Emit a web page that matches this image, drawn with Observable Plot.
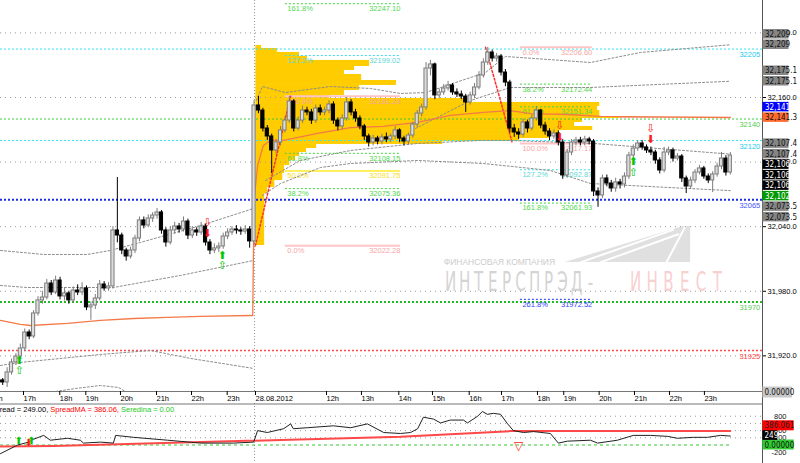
<!DOCTYPE html>
<html>
<head>
<meta charset="utf-8">
<script src="https://cdn.jsdelivr.net/npm/d3@7"></script>
<script src="https://cdn.jsdelivr.net/npm/@observablehq/plot@0.6"></script>
<style>
  html, body { margin: 0; padding: 0; background: #fff; }
  #chart { position: relative; width: 800px; height: 463px; overflow: hidden; background: #fff; }
  #chart svg { position: absolute; left: 0; }
</style>
</head>
<body>
<div id="chart"></div>
<script>
// ================= DATA =================
// candles (bar index = slot); open of each bar = previous close
const firstOpen = 31897.2;
const closes = [
31895.3,31904.6,31913.9,31919.4,31926.9,31941.7,31938.0,31959.4,31971.5,31974.2,
31987.2,31978.9,31990.0,31975.2,31978.0,31971.5,31980.7,31978.9,31982.6,31965.0,
31966.8,31973.3,31986.3,31982.6,31984.5,32036.5,32031.8,32017.9,32012.3,32017.9,
32029.0,32045.8,32041.1,32047.6,32050.4,32053.2,32036.5,32025.3,32036.5,32040.2,
32037.4,32044.8,32031.8,32036.5,32034.6,32040.2,32025.3,32017.9,32019.8,32021.6,
32030.9,32034.6,32037.4,32036.5,32035.5,32037.4,32026.3,
32152.6,
32147.9,32131.2,32123.8,32110.8,32118.2,32129.4,32138.6,32156.3,32131.2,32138.6,
32147.9,32146.1,32138.6,32149.8,32146.1,32147.9,32153.5,32138.6,32133.1,32140.5,
32155.4,32146.1,32140.5,32133.1,32123.8,32118.2,32121.9,32119.1,32122.9,32121.0,
32123.8,32129.4,32121.9,32119.1,32124.7,32134.9,32145.1,32150.7,32186.9,32190.7,
32161.9,32164.7,32168.4,32171.2,32164.7,32162.8,32160.9,32155.4,32161.9,32169.3,
32180.4,32192.5,32201.8,32196.2,32198.1,32183.2,32173.9,32131.2,32127.5,32125.6,
32136.8,32131.2,32140.5,32147.9,32134.0,32128.4,32123.8,32126.6,32118.2,32087.6,
32108.9,32118.2,32120.1,32118.2,32121.0,32119.1,32072.7,32069.0,32084.8,32080.1,
32075.5,32081.1,32079.2,32086.6,32106.1,32112.6,32117.3,32113.6,32110.8,32108.9,
32101.5,32092.2,32108.9,32110.8,32103.3,32105.2,32084.8,32077.3,32082.9,32090.3,
32094.1,32086.6,32082.9,32088.5,32095.9,32103.3,32090.3,32106.1];
const highs = [
31899,31909,31917,31922,31931,31945,31944,31962,31975,31980,
31991,31990,31994,31993,31983,31980,31984,31986,31988,31985,
31970,31977,31990,31989,31988,32040,32085.7,32034,32020,32021,
32032,32049,32049,32051,32053,32056.9,32055,32039,32040,32044,
32043,32049,32047,32040,32039,32044,32042,32028,32024,32025,
32034,32038,32040,32041,32039,32041,32040,
32157.2,
32160.9,32150,32134,32126,32121,32133,32142,32160.9,32158,32142,
32152,32151,32149,32153,32153,32151,32157,32156,32141,32144,
32160,32158,32149,32143,32135,32126,32125,32124,32126,32127,
32126,32133,32131,32124,32127,32137,32148,32154,32192.5,32194.4,
32192,32168,32172,32175,32173,32168,32166,32163,32165,32173,
32184,32196,32206.5,32204,32201,32200,32186,32176,32135,32131,
32140,32139,32144,32151.6,32149,32137,32131,32130,32129,32121,
32112,32121,32123,32123,32124,32123,32121,32076,32088,32088,
32083,32085,32084,32090,32109,32116,32120,32120,32116,32114,
32111,32104,32113.7,32114,32113,32108,32107,32087,32086,32093,
32097,32096,32089,32091,32099,32109,32106,32109];
const lows = [
31892.5,31890.6,31902,31911,31917,31924,31935,31936,31957,31968,
31972,31976,31977,31972,31971,31968,31969,31976,31976,31962,
31953,31963,31971,31980,31980,31982,32025,32014,32008,32010,
32015,32026,32038,32039,32044,32047,32033,32021,32023,32033,
32034,32035,32028,32029,32031,32032,32022,32014,32015,32016,
32019,32028,32032,32033,32032,32033,32020,
32022.5,
32145,32128,32120,32089.4,32107,32115,32127,32136,32128,32129,
32136,32143,32135,32136,32143,32143,32145,32135,32129,32130,
32138,32143,32137,32130,32120,32114,32115,32116,32116,32118,
32118,32121,32118,32115,32116,32122,32132,32142,32148,32180,
32158,32159,32162,32166,32162,32160,32158,32146.1,32153,32159,
32167,32178,32190,32193,32193,32180,32170,32127,32123,32121,
32123,32127,32129,32138,32131,32125,32120,32121,32115,32084,
32085,32106,32115,32115,32115,32116,32068,32058,32066,32077,
32072,32072,32075,32076,32084,32103,32110,32111,32108,32106,
32098,32089,32090,32106,32100,32101,32081,32070.8,32075,32080,
32088,32084,32080,32071.7,32086,32093,32087,32088];

// time axis (bar-slot positions of hour marks)
const tickSlots  = [-3.1,4.49,12.72,18.62,26.48,34.65,42.59,50.68,57.1,73.2,81.13,89.6,97.23,105.56,112.88,121.04,127.0,135.03,143.04,150.98,158.9];
const tickLabels = ["16h","17h","18h","19h","20h","21h","22h","23h","28.08.2012","12h","13h","14h","15h","16h","17h","18h","19h","20h","21h","22h","23h"];
const daySeparator = 57.1;

const priceGrid   = [32220, 32160, 32100, 32040, 31980, 31920];
const levelValues = [32205, 32140, 32120, 32065, 31970, 31925];

// volume profile of 28.08 session
const sessionStart = 57.4;
const profileTop = [32208.3,32205.5,32201.8,32198.1,32194.4,32188.8,32185.1,32181.4,32175.8,32171.2,32166.5,32161.9,32159.1,32155.4,32151.6,32147.9,32144.2,32142.3,32140.5,32136.8,32133.1,32129.4,32125.6,32121.9,32119.1,32116.4,32112.6,32108.9,32105.2,32101.5,32096.8,32089.4,32082.9,32076.4,32070.8];
const profileVol = [1.3,4.9,9.9,11.7,25.8,22.4,20.1,24.0,31.9,23.5,20.1,16.7,48.0,78.0,77.5,78.0,78.0,86.3,74.1,72.3,76.4,68.9,66.6,59.8,42.4,13.8,11.5,9.9,9.0,7.7,6.5,6.1,4.3,2.7,2.0];
const profileBottom = 32022.5;

// Fibonacci sets
const fib1Pct = [161.8, 127.2, 100, 61.8, 50, 38.2, 0];
const fib1Val = [32247.10, 32199.02, 32161.23, 32108.15, 32091.75, 32075.36, 32022.28];
const fib1Span = [64.1, 90.2];
const fib1Swing = [[57.3, 32022.28], [65.3, 32161.23]];
const fib2Pct = [0, 38.2, 61.8, 100, 127.2, 161.8, 261.8];
const fib2Val = [32206.60, 32172.44, 32151.34, 32117.17, 32092.87, 32061.93, 31972.52];
const fib2Span = [117.4, 133.7];
const fib2Swing = [[109.5, 32206.6], [115.6, 32117.17]];

// envelope / band lines
const bandD1a = [[-0.5,32017.9],[9.25,32014.2],[19.2,32014.2],[24.4,32017.9],[31.2,32025.3],[44.9,32041.1],[56.9,32056.9]];
const bandD1b = [[-0.5,31985.4],[5.6,31983.5],[19.2,31983.5],[25.1,31983.5],[40.3,31994.7],[56.9,32008.6]];
const bandD1c = [[-0.5,31911.1],[4.0,31913.9],[22.2,31921.3],[33.5,31925.0],[42.6,31917.6],[56.9,31908.3]];
const bandD1d = [[12.0,31886.9],[16.5,31889.7],[22.2,31892.5],[26.3,31890.6],[27.8,31886.9]];
const bandU1 = [[57.5,32157.2],[58.9,32170.2],[64.1,32164.6],[74.3,32170.2],[83.4,32168.4],[90.2,32163.7],[95.9,32164.6],[102.7,32173.9],[109.5,32183.2],[114.0,32198.1],[133.3,32192.5],[144.6,32201.8],[165.0,32209.0]];
const bandU2 = [[93.6,32131.2],[106.1,32157.2],[115.1,32169.3],[133.3,32169.3],[165.0,32175.1]];
const bandL1 = [[59.6,32082.9],[67.5,32101.5],[78.9,32110.8],[94.1,32117.3],[108.3,32120.1],[115.1,32120.1],[134.0,32117.3],[165.0,32107.4]];
const bandL2 = [[58.9,32069.0],[63.0,32080.1],[72.1,32095.0],[78.9,32098.7],[94.1,32101.5],[109.0,32098.7],[124.2,32092.2],[133.3,32080.1],[165.0,32073.5]];

// VWAP-like orange line
const vwapSlot = [-0.5,4.0,6.3,14.7,22.2,29.7,37.4,44.9,56.2,56.7,57.0,57.8,59.1,60.7,63.7,71.4,78.9,86.3,94.1,101.5,109.0,115.1,119.7,128.1,135.6,165.0];
const vwapVal  = [31952.9,31949.2,31948.2,31950.1,31952.9,31954.7,31955.7,31956.6,31957.5,31957.5,32064.3,32096.8,32115.4,32120.1,32120.1,32126.6,32132.1,32133.1,32136.8,32143.3,32146.1,32147.9,32145.1,32144.2,32142.4,32141.3];
const pinkSpan = [140.0, 165.3];
const pinkVal = 32141.6;

// signal arrows
const arrowSlot  = [3.8,3.8,46.4,46.4,49.8,49.8,126.3,126.3,146.9,146.9,143.0,143.0];
const arrowPrice = [31915.7,31906.4,32043.9,32033.7,32013.3,32004.0,32134.0,32122.9,32131.2,32121.0,32100.6,32090.3];
const arrowKind  = ["buy","buyH","sellH","sell","buy","buyH","sellH","sell","sellH","sell","buy","buyH"];

// right-hand price boxes
const boxValues = [32209,32209,32175.1,32175.1,32141.3,32141.3,32107.4,32107.4,32106,32106,32106,32102.3,32073.5,32073.5];
const boxKinds  = ["band","band","band","band","blue","vwap","band","band","price","price","price","green","band","band"];

// watermark
const wmSmallText = "ФИНАНСОВАЯ КОМПАНИЯ";
const wmSmallAt = [100.0, 32006.8];
const wmWords = ["ИНТЕРСПРЭД-", "ИНВЕСТ"];
const wmWordSpan = [[100.0, 134.9], [141.7, 163.9]];
const wmWordPrice = 31988.5;
const logoSlot = [127.6, 154.4, 156.0];
const logoTop = [32006.8, 32040.2, 32040.2];
const logoBase = 32006.8;
const logoStripes = [
  [[131.0, 32006.8], [152.0, 32037.0]],
  [[135.5, 32006.8], [153.2, 32033.0]],
  [[150.5, 32006.8], [154.8, 32040.2]]
];

// indicator panel
const spreadSlot = [-0.5,3.4,5.9,7.0,9.3,10.8,14.7,17.6,18.3,22.2,25.1,25.6,29.7,37.4,44.9,52.3,56.9,57.8,60.0,63.7,65.3,65.9,69.1,75.0,78.9,82.7,86.4,90.2,92.5,94.1,95.4,97.7,99.3,101.5,104.5,105.4,107.7,108.8,109.9,111.3,112.9,114.5,115.8,118.1,120.4,124.2,126.0,128.1,133.3,134.9,139.4,143.0,146.9,150.8,153.0,156.6,159.8,162.8,165.0];
const spreadVal  = [-240,0,80,160,267,133,187,133,53,80,53,267,213,133,53,53,80,400,347,453,587,453,480,533,480,587,347,320,347,453,773,720,613,693,693,613,800,933,853,880,853,587,400,347,373,320,53,107,133,53,133,267,267,240,187,213,213,267,249];
const maSlot = [-0.5, 11.5, 90.2, 115.2, 165.0];
const maVal  = [-40, -30, 230, 386, 386.06];
const seredinaSpan = [-0.5, 165.5];
const spreadNow = 249.00, maNow = 386.06, seredinaNow = 0.00;
const indGrid = [800, 600, 400, 200];
const indTickLabels = [800, 600, 400, 200, -200];
const indBoxValues = [386.061, 249, 0];
const indBoxText = ["386.061", "249", "0.00000"];
const indBoxKinds = ["ma", "spread", "ser"];
const indSigSlot = [3.6, 5.9, 6.5, 117.0];
const indSigVal  = [120, 60, 120, -30];
const indSigKind = ["buy", "sell", "buy", "tri"];

// ================= RENDER =================
const XMIN = -0.5, XMAX = 172.3;
const YTOP = 32250.1, YBOT = 31886.9;
const MAIN_H = 403, PLOT_B = 391;
const FONT = "Liberation Sans, Arial, sans-serif";
const NARROW = "Liberation Sans Narrow, DejaVu Sans Condensed, Liberation Sans, sans-serif";

const yPix = d3.scaleLinear().domain([YBOT, YTOP]).range([PLOT_B, 0]);

const candles = closes.map((c, i) => {
  const o = i === 0 ? firstOpen : closes[i - 1];
  let lo = Math.min(o, c), hi = Math.max(o, c);
  if (hi - lo < 0.9) hi = lo + 0.9;
  return {i, o, c, up: c >= o, bLo: lo, bHi: hi, h: Math.max(highs[i], hi), l: Math.min(lows[i], lo)};
});
const profile = profileTop.map((t, i) => ({top: t, bot: i + 1 < profileTop.length ? profileTop[i + 1] : profileBottom, vol: profileVol[i]}));
const fib1 = fib1Pct.map((p, i) => ({p, v: fib1Val[i], a: fib1Span[0], b: fib1Span[1]}));
const fib2 = fib2Pct.map((p, i) => ({p, v: fib2Val[i], a: fib2Span[0], b: fib2Span[1]}));
const fibs = fib1.concat(fib2);
const fibSolid = new Set([0, 100, 50]);
const fibColor = p => p === 0 || p === 100 ? "#f4a6a6" : p === 50 ? "#f5dc20" : p === 127.2 ? "#5cd6d6" : p === 261.8 ? "#3344ff" : "#4fd84f";
const fibLine = p => p === 0 || p === 100 ? "#ffc4c4" : p === 50 ? "#fff060" : p === 127.2 ? "#40e0e8" : p === 261.8 ? "#2233ee" : "#3fd43f";

const levelStyle = new Map([
  [32205, {c: "#2ee6f0", w: 1, t: "#22ccee"}],
  [32140, {c: "#3ccc3c", w: 1, t: "#55cc55"}],
  [32120, {c: "#2ee6f0", w: 1, t: "#22ccee"}],
  [32065, {c: "#1a2ae6", w: 2, t: "#4455ff"}],
  [31970, {c: "#1fbf1f", w: 2, t: "#55cc55"}],
  [31925, {c: "#ff4a4a", w: 1.5, t: "#ff4040"}]
]);

const toPts = arr => arr.map(([s, v]) => ({s, v}));
const bands = [bandD1a, bandD1b, bandD1c, bandD1d, bandU1, bandU2, bandL1, bandL2];
const vwap = vwapSlot.map((s, i) => ({s, v: vwapVal[i]}));
const arrows = arrowSlot.map((s, i) => ({s, v: arrowPrice[i], k: arrowKind[i]}));
const glyph = {buy: "⬆", buyH: "⇧", sell: "⬇", sellH: "⇩"};

// watermark letters spread evenly across each word span
const wmLetters = [];
wmWords.forEach((w, wi) => {
  const [a, b] = wmWordSpan[wi];
  const chars = Array.from(w);
  chars.forEach((ch, k) => wmLetters.push({ch, s: a + (k + 0.5) * (b - a) / chars.length, wi}));
});

// stacked right-hand boxes
const BOX_H = 10.5;
let prev = -Infinity, g = 0;
const boxes = boxValues.map((v, i) => {
  if (i > 0 && v === boxValues[i - 1]) g++; else g = 0;
  let py = yPix(v) - BOX_H + g * BOX_H;
  py = Math.max(py, prev + BOX_H);
  prev = py;
  return {v, k: boxKinds[i], py};
});
const boxFill = {band: "#858585", blue: "#0000ff", vwap: "#ff6a30", price: "#000000", green: "#009a00"};
const boxText = {band: "#111", blue: "#fff", vwap: "#111", price: "#fff", green: "#fff"};
const fmtBox = d3.format(",");
const slotsPerPx = (XMAX - XMIN) / 762;

const tickMap = new Map(tickSlots.map((s, i) => [s, tickLabels[i]]));

const main = Plot.plot({
  width: 800, height: MAIN_H,
  marginLeft: 0, marginRight: 38, marginTop: 0, marginBottom: MAIN_H - PLOT_B,
  x: {domain: [XMIN, XMAX], axis: null, label: null},
  y: {domain: [YBOT, YTOP], axis: null, label: null},
  style: {fontFamily: FONT, fontSize: "7.5px", background: "#fff", color: "#000", overflow: "hidden"},
  marks: [
    // watermark logo & text
    Plot.areaY(logoSlot.map((s, i) => ({s, t: logoTop[i]})), {x: "s", y1: logoBase, y2: "t", fill: "#e0e0e0"}),
    ...logoStripes.map(st => Plot.line(toPts(st), {x: "s", y: "v", stroke: "#fff", strokeWidth: 2})),
    Plot.text([wmSmallText], {x: wmSmallAt[0], y: wmSmallAt[1], text: d => d, textAnchor: "start", fontSize: 8.5, fill: "#cccccc"}),
    Plot.text(wmLetters, {x: "s", y: wmWordPrice, text: "ch", textAnchor: "middle", fontFamily: NARROW, fontSize: 27,
      fill: d => d.wi === 1 ? "#f8d0d0" : "#d4d4d4"}),
    // volume profile
    Plot.rect(profile, {x1: sessionStart, x2: d => sessionStart + d.vol, y1: "bot", y2: "top", fill: "#ffcc00"}),
    // grid
    Plot.ruleY(priceGrid, {stroke: "#9a9a9a", strokeDasharray: "1,4"}),
    Plot.ruleX([daySeparator], {stroke: "#9a9a9a", strokeDasharray: "1,2"}),
    // levels
    Plot.ruleY(levelValues, {stroke: d => levelStyle.get(d).c, strokeWidth: d => levelStyle.get(d).w, strokeDasharray: "2,2"}),
    // fibonacci
    Plot.ruleY(fibs.filter(d => !fibSolid.has(d.p)), {y: "v", x1: "a", x2: "b", stroke: d => fibLine(d.p), strokeDasharray: "2,2"}),
    Plot.ruleY(fibs.filter(d => fibSolid.has(d.p)), {y: "v", x1: "a", x2: "b", stroke: d => fibLine(d.p), strokeWidth: 2}),
    Plot.text(fibs, {x: "a", y: "v", text: d => d.p.toFixed(1) + "%", textAnchor: "start", dx: 2, dy: 5, fill: d => fibColor(d.p)}),
    Plot.text(fibs, {x: "b", y: "v", text: d => d.v.toFixed(2), textAnchor: "end", dy: 5, fill: d => fibColor(d.p)}),
    Plot.line(toPts(fib1Swing), {x: "s", y: "v", stroke: "#ff3030", strokeDasharray: "2,2"}),
    Plot.line(toPts(fib2Swing), {x: "s", y: "v", stroke: "#ff3030", strokeDasharray: "2,2"}),
    // bands
    ...bands.map(b => Plot.line(toPts(b), {x: "s", y: "v", stroke: "#8c8c8c", strokeDasharray: "2,2", strokeWidth: 1})),
    // pink & orange
    Plot.ruleY([pinkVal], {x1: pinkSpan[0], x2: pinkSpan[1], stroke: "#f7b4ac", strokeWidth: 1.5}),
    Plot.line(vwap, {x: "s", y: "v", stroke: "#f47a48", strokeWidth: 1.3}),
    // candles
    Plot.ruleX(candles, {x: "i", y1: "l", y2: "h", stroke: d => d.up ? "#7c7c7c" : "#000000"}),
    Plot.rect(candles, {x1: d => d.i - 0.36, x2: d => d.i + 0.36, y1: "bLo", y2: "bHi",
      fill: d => d.up ? "#dcdcdc" : "#000000", stroke: d => d.up ? "#7c7c7c" : "#000000", strokeWidth: 1}),
    // arrows
    Plot.text(arrows, {x: "s", y: "v", text: d => glyph[d.k], fontFamily: "DejaVu Sans, sans-serif", fontSize: 11,
      fill: d => d.k.startsWith("buy") ? "#00c800" : "#ff1a1a"}),
    // level labels
    Plot.text(levelValues, {x: XMAX - 0.5, y: d => d, text: d => String(d), textAnchor: "end", dy: 6, fill: d => levelStyle.get(d).t}),
    // right axis
    Plot.ruleX([XMAX], {y1: YTOP, y2: yPix.invert(MAIN_H), stroke: "#555"}),
    Plot.axisY(priceGrid, {anchor: "right", tickSize: 3, tickPadding: 2, tickFormat: d3.format(",.1f"), label: null, fontSize: 7.5}),
    Plot.rect(boxes, {x1: XMAX + 0.1, x2: XMAX + 26.5 * slotsPerPx,
      y1: d => yPix.invert(d.py + BOX_H / 2 - 0.5), y2: d => yPix.invert(d.py - BOX_H / 2 + 0.5), fill: d => boxFill[d.k]}),
    Plot.text(boxes, {x: XMAX + 2.5 * slotsPerPx, y: d => yPix.invert(d.py), text: d => fmtBox(d.v), textAnchor: "start",
      fill: d => boxText[d.k], fontFamily: NARROW, fontSize: 8}),
    Plot.rect([0], {x1: XMAX + 0.1, x2: XMAX + 30 * slotsPerPx, y1: yPix.invert(397.5), y2: yPix.invert(386.5), fill: "#c8c8c8"}),
    Plot.text([0], {x: XMAX + 2 * slotsPerPx, y: yPix.invert(392), text: () => "0.00000", textAnchor: "start", fontFamily: NARROW, fontSize: 8, fill: "#111"}),
    // bottom axis
    Plot.ruleY([YBOT], {stroke: "#777"}),
    Plot.axisX(tickSlots, {anchor: "bottom", tickSize: 4, tickPadding: 0, tickFormat: d => tickMap.get(d), textAnchor: "start", dx: 1, label: null, fontSize: 7.5})
  ]
});
main.style.top = "0px";

// indicator panel
const IND_H = 60, ZERO_Y = 41.5, PER_PX = 27.8;
const indDomain = [-(IND_H - ZERO_Y) * PER_PX, ZERO_Y * PER_PX];
const iy = d3.scaleLinear().domain(indDomain).range([IND_H, 0]);
const spread = spreadSlot.map((s, i) => ({s, v: spreadVal[i]}));
const ma = maSlot.map((s, i) => ({s, v: maVal[i]}));
let iprev = Infinity;
const indBoxes = indBoxValues.map((v, i) => ({v, t: indBoxText[i], k: indBoxKinds[i]}))
  .sort((a, b) => a.v - b.v)
  .map(d => { const py = Math.min(iy(d.v), iprev - 9.6); iprev = py; return {...d, py}; });
const indFill = {ma: "#ff0000", spread: "#000000", ser: "#33cc33"};
const indTxt = {ma: "#222", spread: "#fff", ser: "#111"};
const indSigGlyph = {buy: "⬆", sell: "⬇", tri: "▽"};
const HEADER = "__hdr__";

const ind = Plot.plot({
  width: 800, height: IND_H,
  marginLeft: 0, marginRight: 38, marginTop: 0, marginBottom: 0,
  x: {domain: [XMIN, XMAX], axis: null, label: null},
  y: {domain: indDomain, axis: null, label: null},
  style: {fontFamily: FONT, fontSize: "7.5px", background: "#fff", color: "#000", overflow: "hidden"},
  marks: [
    Plot.ruleY(indGrid, {stroke: "#9a9a9a", strokeDasharray: "1,4"}),
    Plot.ruleX([daySeparator], {stroke: "#9a9a9a", strokeDasharray: "1,2"}),
    Plot.ruleY([seredinaNow], {x1: seredinaSpan[0], x2: seredinaSpan[1], stroke: "#33cc33", strokeDasharray: "3,3"}),
    Plot.line(ma, {x: "s", y: "v", stroke: "#ff4848", strokeWidth: 2}),
    Plot.line(spread, {x: "s", y: "v", stroke: "#222", strokeWidth: 1}),
    Plot.text(indSigSlot.map((s, i) => ({s, v: indSigVal[i], k: indSigKind[i]})), {x: "s", y: "v",
      text: d => indSigGlyph[d.k], fontFamily: "DejaVu Sans, sans-serif", fontSize: d => d.k === "tri" ? 12 : 10,
      fill: d => d.k === "buy" ? "#00c800" : "#ff1a1a"}),
    Plot.text([0], {frameAnchor: "top-left", text: () => HEADER, dx: -10, dy: 6, lineAnchor: "middle", textAnchor: "start"}),
    Plot.ruleX([XMAX], {stroke: "#555"}),
    Plot.ruleY([indDomain[1]], {stroke: "#777", dy: 0.5}),
    Plot.text(indTickLabels, {x: XMAX, y: d => d, text: d => String(d), dx: 24, textAnchor: "end", fill: "#111"}),
    Plot.rect(indBoxes, {x1: XMAX + 0.1, x2: d => XMAX + (d.t.length * 4.1 + 3) * slotsPerPx,
      y1: d => iy.invert(d.py + 5), y2: d => iy.invert(d.py - 5), fill: d => indFill[d.k]}),
    Plot.text(indBoxes, {x: XMAX + 2 * slotsPerPx, y: d => iy.invert(d.py), text: "t", textAnchor: "start",
      fontFamily: NARROW, fontSize: 8, fill: d => indTxt[d.k]})
  ]
});
ind.style.top = MAIN_H + "px";

// multi-coloured header
for (const t of ind.querySelectorAll("text")) {
  if (t.textContent === HEADER) {
    t.textContent = "";
    [["Spread = " + spreadNow.toFixed(2) + ", ", "#000"],
     ["SpreadMA = " + maNow.toFixed(2) + ", ", "#ff0000"],
     ["Seredina = " + seredinaNow.toFixed(2), "#22cc22"]].forEach(([s, c]) => {
      const ts = document.createElementNS("http://www.w3.org/2000/svg", "tspan");
      ts.setAttribute("fill", c); ts.textContent = s; t.appendChild(ts);
    });
  }
}

// condense the big watermark letters horizontally (scale about each letter's own anchor)
const wmChars = new Set(wmWords.join(""));
for (const t of Array.from(main.querySelectorAll("text"))) {
  const s = t.textContent;
  if (s.length === 1 && wmChars.has(s)) {
    const tr = t.getAttribute("transform");
    if (tr) t.setAttribute("transform", tr + " scale(0.62,1)");
    else {
      const x = +t.getAttribute("x") || 0, y = +t.getAttribute("y") || 0;
      t.setAttribute("transform", `translate(${x},${y}) scale(0.62,1) translate(${-x},${-y})`);
    }
  }
}

document.getElementById("chart").append(main, ind);
</script>
</body>
</html>
